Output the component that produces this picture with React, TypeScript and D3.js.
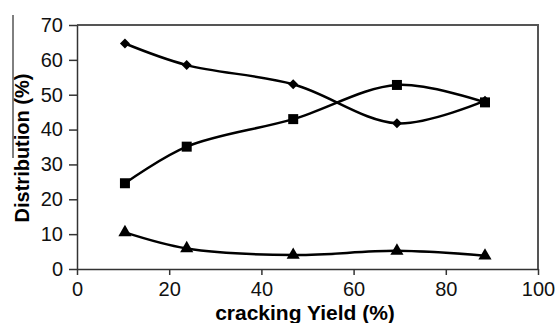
import React, { useEffect, useRef } from "react";
import * as d3 from "d3";

// cracking yield (%) on x, distribution (%) on y
const yieldPct = [10.4, 23.8, 46.9, 69.4, 88.5];
const diamondSeries = [64.7, 58.5, 53.0, 41.8, 48.3];
const squareSeries = [24.6, 35.1, 43.0, 52.8, 47.8];
const triangleSeries = [10.5, 5.9, 4.0, 5.2, 3.8];
const xTicks = [0, 20, 40, 60, 80, 100];
const yTicks = [0, 10, 20, 30, 40, 50, 60, 70];

const App = () => {
  const ref = useRef<SVGSVGElement>(null);

  useEffect(() => {
    const svg = d3.select(ref.current);
    svg.selectAll("*").remove();

    const left = 77, right = 538, top = 25, bottom = 269;
    const x = d3.scaleLinear().domain([0, 100]).range([left, right]);
    const y = d3.scaleLinear().domain([0, 70]).range([bottom, top]);
    const font = "Arial, 'Liberation Sans', sans-serif";

    // frame top/right
    svg.append("path")
      .attr("d", `M${left},${top}H${right}V${bottom}`)
      .attr("fill", "none")
      .attr("stroke", "#555")
      .attr("stroke-width", 2);

    const yAxis = svg.append("g")
      .attr("transform", `translate(${left},0)`)
      .call(d3.axisLeft(y).tickValues(yTicks).tickSize(8).tickSizeOuter(0).tickPadding(6));
    const xAxis = svg.append("g")
      .attr("transform", `translate(0,${bottom})`)
      .call(d3.axisBottom(x).tickValues(xTicks).tickSize(6).tickSizeOuter(0).tickPadding(7));

    [yAxis, xAxis].forEach((g) => {
      g.select(".domain").attr("stroke", "#333").attr("stroke-width", 1.5);
      g.selectAll(".tick line").attr("stroke", "#333").attr("stroke-width", 1.5);
      g.selectAll(".tick text")
        .attr("fill", "#111")
        .style("font-family", font)
        .style("font-size", "20px");
    });

    const line = d3.line<number>()
      .x((_, i) => x(yieldPct[i]))
      .y((d) => y(d))
      .curve(d3.curveCatmullRom.alpha(0.5));

    const series = [
      { vals: diamondSeries, shape: d3.symbolSquare, size: 50, rot: 45 },
      { vals: squareSeries, shape: d3.symbolSquare, size: 100, rot: 0 },
      { vals: triangleSeries, shape: d3.symbolTriangle, size: 75, rot: 0 },
    ];

    series.forEach((s) => {
      svg.append("path")
        .attr("d", line(s.vals))
        .attr("fill", "none")
        .attr("stroke", "#000")
        .attr("stroke-width", 2.5);
      svg.append("g")
        .selectAll("path")
        .data(s.vals)
        .join("path")
        .attr("transform", (d, i) => `translate(${x(yieldPct[i])},${y(d)}) rotate(${s.rot})`)
        .attr("d", d3.symbol(s.shape, s.size)())
        .attr("fill", "#000");
    });

    // axis titles
    svg.append("text")
      .attr("x", 305)
      .attr("y", 320)
      .attr("text-anchor", "middle")
      .style("font-family", font)
      .style("font-size", "21px")
      .style("font-weight", "bold")
      .text("cracking Yield (%)");

    svg.append("text")
      .attr("transform", "translate(29,148) rotate(-90)")
      .attr("text-anchor", "middle")
      .style("font-family", font)
      .style("font-size", "20px")
      .style("font-weight", "bold")
      .text("Distribution (%)");

    // stray scan line at left edge
    svg.append("line")
      .attr("x1", 13).attr("x2", 13)
      .attr("y1", 15).attr("y2", 158)
      .attr("stroke", "#000")
      .attr("stroke-width", 1);
  }, []);

  return (
    <svg
      ref={ref}
      width={557}
      height={323}
      style={{ position: "absolute", left: 0, top: 0, background: "#fff" }}
    />
  );
};

export default App;
